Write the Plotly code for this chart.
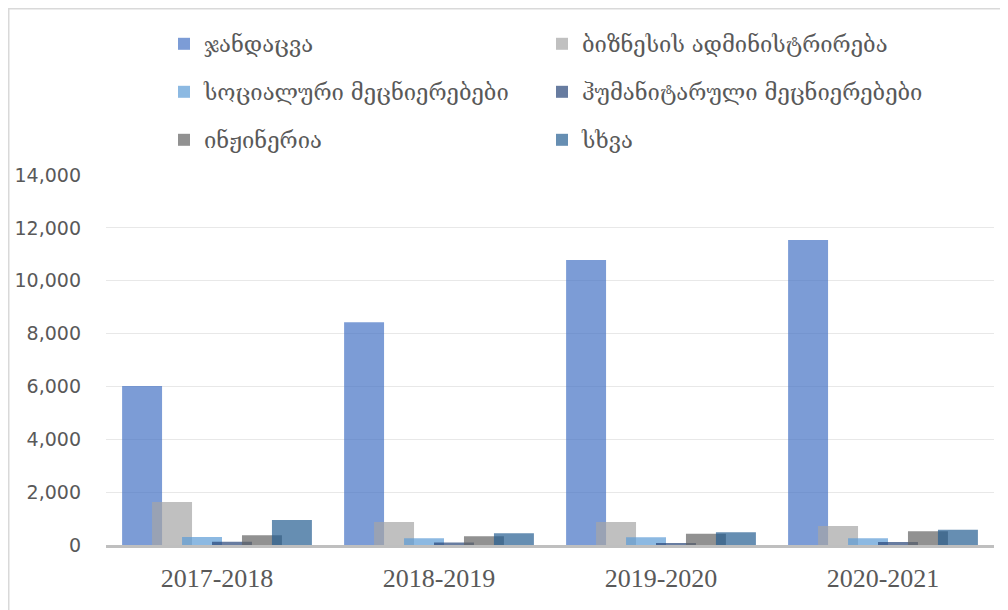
import plotly.graph_objects as go

categories = ["2017-2018", "2018-2019", "2019-2020", "2020-2021"]

series_names = [
    "ჯანდაცვა",
    "ბიზნესის ადმინისტრირება",
    "სოციალური მეცნიერებები",
    "ჰუმანიტარული მეცნიერებები",
    "ინჟინერია",
    "სხვა",
]

health = [6020, 8430, 10780, 11540]
business = [1630, 870, 870, 720]
social = [300, 255, 290, 255]
humanities = [125, 90, 75, 110]
engineering = [365, 330, 430, 520]
other = [945, 440, 480, 580]

values = [health, business, social, humanities, engineering, other]

colors = [
    "rgba(68,114,196,0.7)",
    "rgba(165,165,165,0.7)",
    "rgba(91,155,213,0.7)",
    "rgba(38,68,120,0.7)",
    "rgba(99,99,99,0.7)",
    "rgba(37,94,145,0.7)",
]

legend_ids = ["legend", "legend2", "legend3", "legend4", "legend5", "legend6"]

BAR_W = 0.18
STEP = 0.135

fig = go.Figure()
for i, (name, vals, col, lg) in enumerate(zip(series_names, values, colors, legend_ids)):
    fig.add_trace(go.Bar(
        x=categories, y=vals, name=name,
        marker=dict(color=col, line=dict(width=0)),
        width=BAR_W, offset=(i - 2.5) * STEP - BAR_W / 2,
        legend=lg,
    ))

W, H = 1008, 610
L, T = 98, 167
pw, ph = 888, 370
R = W - L - pw
B = H - T - ph

def px_to_paper_x(px):
    return (px - L) / pw

def px_to_paper_y(py):
    return 1 + (T - py) / ph

legend_font = dict(family="DejaVu Serif, DejaVu Sans", size=22, color="#595959")
common = dict(orientation="v", xanchor="left", yanchor="middle", font=legend_font,
              bgcolor="rgba(0,0,0,0)", itemclick=False, itemdoubleclick=False)

col_x = [px_to_paper_x(156), px_to_paper_x(534)]
row_y = [px_to_paper_y(36), px_to_paper_y(84), px_to_paper_y(132)]

legend_layout = {}
for i, lg in enumerate(legend_ids):
    legend_layout[lg] = dict(x=col_x[i % 2], y=row_y[i // 2], **common)

fig.update_layout(
    width=W, height=H,
    margin=dict(l=L, r=R, t=T, b=B, autoexpand=False),
    barmode="overlay",
    plot_bgcolor="white", paper_bgcolor="white",
    xaxis=dict(
        type="category", range=[-0.5, 3.5],
        showline=True, linecolor="#BFBFBF", linewidth=2.5,
        showgrid=False, ticks="",
        tickfont=dict(family="Liberation Serif", size=26, color="#595959"),
        ticklabelstandoff=8,
    ),
    yaxis=dict(
        range=[0, 14000], dtick=2000, tickformat=",d",
        showgrid=True, gridcolor="#E8E8E8", gridwidth=1,
        zeroline=False, showline=False, ticks="",
        tickfont=dict(family="DejaVu Sans", size=19, color="#595959"),
        ticklabelstandoff=24,
    ),
    showlegend=True,
    **legend_layout,
)

# outer chart border (top and left visible)
bx = px_to_paper_x(0.75)
by = px_to_paper_y(0.75)
fig.add_shape(type="rect", xref="paper", yref="paper",
              x0=bx, x1=1.2, y0=-0.3, y1=by,
              line=dict(color="#D9D9D9", width=1.5),
              fillcolor="rgba(0,0,0,0)", layer="above")

fig.write_html("out.html")
